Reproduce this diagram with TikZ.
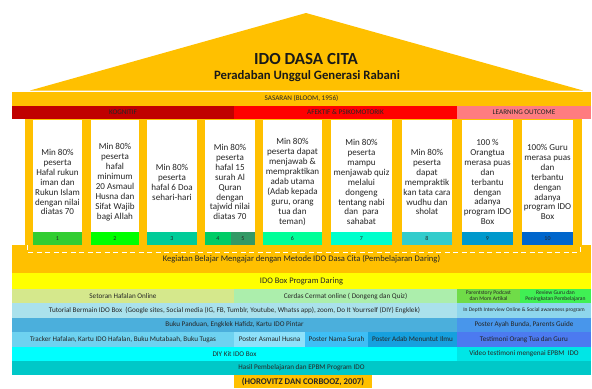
\documentclass[tikz,border=0pt]{standalone}
\usepackage{fontspec}
\setmainfont{Carlito}
\usetikzlibrary{calc}
\definecolor{oranye}{RGB}{255,192,0}
\definecolor{kuning}{RGB}{255,255,0}
\definecolor{merahtua}{RGB}{192,0,0}
\definecolor{merah}{RGB}{255,0,0}
\definecolor{merahmuda}{RGB}{255,124,128}
\definecolor{nomor1}{RGB}{50,205,50}
\definecolor{nomor2}{RGB}{0,255,0}
\definecolor{nomor3}{RGB}{0,204,153}
\definecolor{nomor4}{RGB}{0,204,102}
\definecolor{nomor5}{RGB}{51,153,102}
\definecolor{nomor6}{RGB}{0,255,153}
\definecolor{nomor7}{RGB}{0,255,204}
\definecolor{nomor8}{RGB}{51,204,204}
\definecolor{nomor9}{RGB}{0,153,204}
\definecolor{nomor10}{RGB}{0,102,204}
\definecolor{setoran}{RGB}{213,232,140}
\definecolor{cerdas}{RGB}{172,238,172}
\definecolor{podcast}{RGB}{112,220,72}
\definecolor{review}{RGB}{64,240,84}
\definecolor{tutorial}{RGB}{170,225,236}
\definecolor{interview}{RGB}{142,214,236}
\definecolor{panduan}{RGB}{75,175,220}
\definecolor{ayahbunda}{RGB}{72,150,235}
\definecolor{tracker}{RGB}{110,210,240}
\definecolor{asmaul}{RGB}{142,225,250}
\definecolor{surah}{RGB}{62,190,245}
\definecolor{adab}{RGB}{22,160,222}
\definecolor{testimoni}{RGB}{76,122,240}
\definecolor{diykit}{RGB}{0,255,255}
\definecolor{video}{RGB}{0,230,230}
\definecolor{hasil}{RGB}{0,200,200}
\tikzset{
  isi/.style={text=black!85, align=center, inner sep=0pt, font=\fontsize{7.2}{8}\selectfont},
  tiang/.style={isi, font=\fontsize{9.1}{10}\selectfont},
}
\def\blok[#1][#2](#3)(#4)#5#6{\fill[#1] (#3) rectangle (#4); \node[isi, #2] (#5) at ($(#3)!0.5!(#4)$) {#6};}

\begin{document}
\begin{tikzpicture}[x=1bp,y=-1bp]
		%%%%% START %%%%%
		\useasboundingbox[fill=white] (0,0) rectangle (592,388);
		
		% atap
		\fill[oranye] (30,90.5) -- (306,13) -- (583,90.5) -- cycle;
		\node[font=\bfseries\fontsize{17}{18}\selectfont, text=black!90, anchor=base] (judul) at (306,64) {IDO DASA CITA};
		\node[font=\bfseries\fontsize{12.8}{14}\selectfont, text=black!90, anchor=base] (subjudul) at (307,79) {Peradaban Unggul Generasi Rabani};
		
		% sasaran
		\blok[oranye][](12,92)(591,105.5){sasaran}{SASARAN (BLOOM, 1956)}
		\blok[merahtua][](12,105.5)(234,119){kognitif}{KOGNITIF}
		\blok[merah][](234,105.5)(457,119){afektif}{AFEKTIF \& PSIKOMOTORIK}
		\blok[merahmuda][](457,105.5)(591,119){outcome}{LEARNING OUTCOME}
		
		% tiang
		\fill[oranye] (25,119) rectangle (582,245);
		\fill[white] (33,119.5) rectangle (82,232);
		\fill[white] (91,119.5) rectangle (139,232);
		\fill[white] (147,119.5) rectangle (197,232);
		\fill[white] (205,119.5) rectangle (255,232);
		\fill[white] (263,119.5) rectangle (322,232);
		\fill[white] (331,119.5) rectangle (392,232);
		\fill[white] (402,119.5) rectangle (452,232);
		\fill[white] (462,119.5) rectangle (513,232);
		\fill[white] (522,119.5) rectangle (573,232);
		
		\node[tiang] (tiang1) at (57.5,182) {Min 80\%\\peserta\\Hafal rukun\\iman dan\\Rukun Islam\\dengan nilai\\diatas 70};
		\node[tiang] (tiang2) at (115,182) {Min 80\%\\peserta\\hafal\\minimum\\20 Asmaul\\Husna dan\\Sifat Wajib\\bagi Allah};
		\node[tiang] (tiang3) at (172,182) {Min 80\%\\peserta\\hafal 6 Doa\\sehari-hari};
		\node[tiang] (tiang4) at (230,182) {Min 80\%\\peserta\\hafal 15\\surah Al\\Quran\\dengan\\tajwid nilai\\diatas 70};
		\node[tiang] (tiang6) at (292.5,182) {Min 80\%\\peserta dapat\\menjawab \&\\mempraktikan\\adab utama\\(Adab kepada\\guru, orang\\tua dan\\teman)};
		\node[tiang] (tiang7) at (361.5,182) {Min 80\%\\peserta\\mampu\\menjawab quiz\\melalui\\dongeng\\tentang nabi\\dan~~para\\sahabat};
		\node[tiang] (tiang8) at (427,182) {Min 80\%\\peserta\\dapat\\mempraktik\\kan tata cara\\wudhu dan\\sholat};
		\node[tiang] (tiang9) at (487.5,182) {100 \%\\Orangtua\\merasa puas\\dan\\terbantu\\dengan\\adanya\\program IDO\\Box};
		\node[tiang] (tiang10) at (547.5,182) {100\% Guru\\merasa puas\\dan\\terbantu\\dengan\\adanya\\program IDO\\Box};
		
		% nomor
		\blok[nomor1][font=\fontsize{6}{7}\selectfont](33,232)(82,245){no1}{1}
		\blok[nomor2][font=\fontsize{6}{7}\selectfont](91,232)(139,245){no2}{2}
		\blok[nomor3][font=\fontsize{6}{7}\selectfont](147,232)(197,245){no3}{3}
		\blok[nomor4][font=\fontsize{6}{7}\selectfont](205,232)(231,245){no4}{4}
		\blok[nomor5][font=\fontsize{6}{7}\selectfont](231,232)(255,245){no5}{5}
		\blok[nomor6][font=\fontsize{6}{7}\selectfont](263,232)(322,245){no6}{6}
		\blok[nomor7][font=\fontsize{6}{7}\selectfont](331,232)(392,245){no7}{7}
		\blok[nomor8][font=\fontsize{6}{7}\selectfont](402,232)(452,245){no8}{8}
		\blok[nomor9][font=\fontsize{6}{7}\selectfont](462,232)(513,245){no9}{9}
		\blok[nomor10][font=\fontsize{6}{7}\selectfont](522,232)(573,245){no10}{10}
		
		% fondasi
		\blok[oranye][font=\fontsize{8.6}{9}\selectfont](12,245)(591,273){kbm}{Kegiatan Belajar Mengajar dengan Metode IDO Dasa Cita (Pembelajaran Daring)}
		\draw[white, line width=0.6bp, dash pattern=on 5bp off 3.5bp] (27,245) -- (27,252.5) -- (580,252.5) -- (580,245);
		\blok[kuning][font=\fontsize{8.5}{9}\selectfont](12,273)(591,289){daring}{IDO Box Program Daring}
		
		\blok[setoran][](12,289)(234,303){setoran}{Setoran Hafalan Online}
		\blok[cerdas][](234,289)(457,303){cerdas}{Cerdas Cermat online ( Dongeng dan Quiz)}
		\blok[podcast][font=\fontsize{5.6}{6}\selectfont](457,289)(520,303){podcast}{Parentstory Podcast\\dan Mom Artikal}
		\blok[review][font=\fontsize{5.6}{6}\selectfont](520,289)(591,303){review}{Review Guru dan\\Peningkatan Pembelajaran}
		
		\blok[tutorial][](12,303)(457,318){tutorial}{Tutorial Bermain IDO Box~~(Google sites, Social media (IG, FB, Tumblr, Youtube, Whatss app), zoom, Do It Yourrself (DIY) Engklek)}
		\blok[interview][font=\fontsize{5.5}{6}\selectfont](457,303)(591,318){interview}{In Depth Interview Online \& Social awareness program}
		
		\blok[panduan][](12,318)(457,332){panduan}{Buku Panduan, Engklek Hafidz, Kartu IDO Pintar}
		\blok[ayahbunda][](457,318)(591,332){ayahbunda}{Poster Ayah Bunda, Parents Guide}
		
		\blok[tracker][](12,332)(234,347){tracker}{Tracker Hafalan, Kartu IDO Hafalan, Buku Mutabaah, Buku Tugas}
		\blok[asmaul][](234,332)(305,347){asmaul}{Poster Asmaul Husna}
		\blok[surah][](305,332)(368,347){surah}{Poster Nama Surah}
		\blok[adab][](368,332)(457,347){adab}{Poster Adab Menuntut Ilmu}
		\blok[testimoni][](457,332)(591,347){testimoni}{Testimoni Orang Tua dan Guru}
		
		\blok[diykit][](12,347)(457,361){diykit}{DIY Kit IDO Box}
		\blok[video][](457,347)(591,361){video}{Video testimoni mengenai EPBM~~IDO}
		
		\blok[hasil][](12,361)(591,375){hasil}{Hasil Pembelajaran dan EPBM Program IDO}
		\blok[oranye][font=\bfseries\fontsize{8.8}{9}\selectfont](234,375)(372,388){sumber}{(HOROVITZ DAN CORBOOZ, 2007)}
		
		%%%%% END %%%%%
	\end{tikzpicture}
\end{document}
